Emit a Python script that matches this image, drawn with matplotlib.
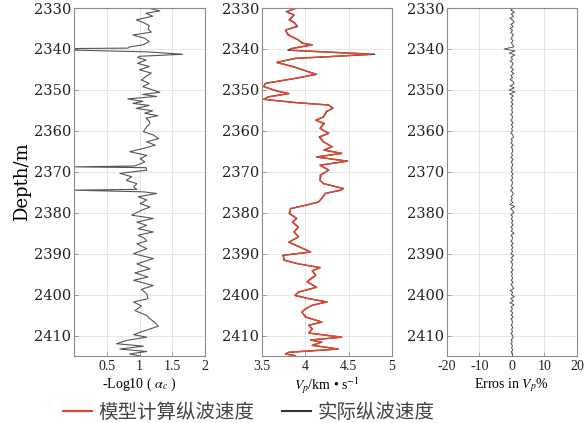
import numpy as np
import matplotlib.pyplot as plt
from matplotlib.lines import Line2D

plt.rcParams['mathtext.fontset'] = 'stix'
plt.rcParams['axes.unicode_minus'] = False

# -Log10(alpha_c) curve (depth in m, value)
alpha_depth = [2330.1, 2330.7, 2331.3, 2332.0, 2332.9, 2333.5, 2334.3, 2335.1, 2335.9, 2336.6,
               2337.4, 2338.2, 2339.0, 2339.5, 2339.8, 2339.9, 2340.3, 2340.7, 2341.3, 2341.8,
               2342.1, 2342.7, 2343.5, 2344.3, 2345.1, 2345.9, 2346.7, 2347.6, 2348.4, 2349.2,
               2350.0, 2350.6, 2351.1, 2351.6, 2352.2, 2352.8, 2353.3, 2353.8, 2354.5, 2355.1,
               2355.7, 2356.3, 2356.9, 2357.7, 2358.2, 2359.0, 2360.2, 2361.0, 2361.9, 2362.7,
               2363.5, 2364.3, 2365.1, 2366.0, 2366.8, 2367.6, 2368.4, 2368.6, 2368.8, 2369.0,
               2369.6, 2370.4, 2371.2, 2372.1, 2372.9, 2373.7, 2374.3, 2374.5, 2374.9, 2375.3,
               2376.1, 2376.9, 2377.8, 2378.6, 2379.4, 2380.6, 2381.4, 2382.3, 2383.1, 2383.9,
               2384.7, 2385.5, 2386.3, 2386.9, 2387.6, 2388.8, 2390.0, 2391.2, 2392.5, 2393.7,
               2394.7, 2395.7, 2396.5, 2397.8, 2398.7, 2399.8, 2401.0, 2401.8, 2402.8, 2403.9,
               2405.1, 2405.9, 2406.9, 2407.7, 2408.4, 2409.2, 2409.8, 2410.4, 2411.2, 2412.0,
               2412.6, 2413.3, 2413.9, 2414.5, 2415.0]
alpha_val = [1.15, 1.31, 1.10, 1.20, 0.95, 1.05, 1.15, 1.13, 1.18, 0.90,
             1.08, 1.15, 1.05, 0.85, 0.82, 0.00, 0.02, 1.10, 1.66, 1.00,
             0.97, 1.10, 0.97, 1.15, 1.00, 1.18, 1.10, 1.03, 1.15, 1.05,
             1.20, 1.31, 1.05, 1.26, 0.82, 1.05, 0.90, 1.15, 0.95, 1.20,
             1.08, 1.28, 1.10, 1.15, 1.16, 1.11, 1.06, 1.21, 1.29, 1.11,
             1.24, 1.06, 0.85, 1.11, 1.01, 1.08, 0.96, 0.92, 0.00, 1.10,
             1.11, 0.70, 0.88, 0.80, 0.96, 0.91, 0.96, 0.00, 1.06, 1.26,
             0.98, 1.11, 1.01, 1.16, 1.03, 0.88, 1.21, 0.96, 1.11, 0.98,
             1.21, 0.98, 1.08, 1.11, 0.96, 1.11, 0.91, 1.21, 0.96, 1.16,
             0.93, 1.13, 0.91, 1.21, 1.03, 1.11, 1.13, 0.91, 1.03, 0.93,
             1.11, 1.16, 1.24, 1.29, 1.16, 1.01, 0.91, 1.11, 0.80, 0.65,
             1.06, 0.70, 1.11, 0.85, 1.01]

# Vp curves (km/s)
vp_depth = [2330.1, 2330.9, 2331.7, 2332.9, 2333.7, 2334.5, 2335.4, 2336.6, 2337.8, 2338.6,
            2339.0, 2339.9, 2340.3, 2340.8, 2341.3, 2341.9, 2342.3, 2343.3, 2344.3, 2345.6,
            2346.2, 2347.2, 2348.4, 2349.2, 2350.3, 2350.9, 2351.7, 2352.3, 2353.1, 2353.7,
            2354.5, 2355.3, 2356.6, 2357.4, 2358.2, 2359.4, 2360.6, 2361.5, 2362.7, 2363.9,
            2364.7, 2365.5, 2366.4, 2367.4, 2368.4, 2369.6, 2370.8, 2372.1, 2372.9, 2374.1,
            2374.5, 2375.3, 2376.5, 2377.4, 2378.2, 2379.0, 2380.2, 2381.4, 2382.3, 2383.5,
            2384.7, 2385.9, 2387.2, 2388.0, 2388.8, 2389.6, 2390.4, 2391.6, 2392.5, 2393.4,
            2394.2, 2395.3, 2396.1, 2396.9, 2398.2, 2399.4, 2400.2, 2401.0, 2401.8, 2402.6,
            2403.5, 2404.3, 2405.5, 2406.7, 2407.5, 2408.4, 2409.4, 2410.4, 2411.1, 2411.6,
            2412.4, 2413.3, 2414.1, 2414.5, 2414.9]
vp_model = [3.88, 3.79, 3.87, 3.81, 3.88, 3.90, 3.77, 3.81, 3.92, 3.96,
            4.08, 3.85, 3.83, 4.27, 4.75, 4.27, 3.88, 3.67, 3.85, 4.04,
            4.12, 3.88, 3.54, 3.52, 3.67, 3.81, 3.58, 3.52, 3.88, 4.27,
            4.31, 4.25, 4.21, 4.12, 4.21, 4.17, 4.27, 4.17, 4.21, 4.31,
            4.21, 4.42, 4.13, 4.48, 4.17, 4.27, 4.17, 4.17, 4.21, 4.44,
            4.40, 4.23, 4.19, 4.15, 4.00, 3.83, 3.81, 3.90, 3.85, 3.92,
            3.87, 3.92, 3.81, 3.90, 3.98, 4.06, 3.75, 3.75, 3.92, 4.17,
            4.08, 4.12, 4.06, 4.02, 4.13, 3.92, 3.88, 4.04, 4.25, 4.08,
            4.00, 3.96, 4.00, 4.19, 4.04, 4.08, 4.04, 4.42, 4.06, 4.19,
            4.08, 4.38, 3.81, 3.77, 3.88]
vp_actual = [3.89, 3.78, 3.87, 3.82, 3.88, 3.91, 3.77, 3.80, 3.92, 3.97,
             4.08, 3.84, 3.80, 4.30, 4.80, 4.25, 3.89, 3.67, 3.86, 4.04,
             4.13, 3.88, 3.54, 3.52, 3.68, 3.81, 3.57, 3.52, 3.89, 4.27,
             4.32, 4.24, 4.21, 4.12, 4.22, 4.17, 4.27, 4.16, 4.21, 4.31,
             4.22, 4.42, 4.13, 4.49, 4.17, 4.27, 4.18, 4.17, 4.21, 4.44,
             4.41, 4.23, 4.19, 4.15, 4.00, 3.83, 3.82, 3.90, 3.85, 3.92,
             3.87, 3.92, 3.81, 3.89, 3.98, 4.06, 3.74, 3.76, 3.92, 4.17,
             4.08, 4.12, 4.07, 4.02, 4.13, 3.92, 3.88, 4.04, 4.25, 4.08,
             4.00, 3.96, 4.01, 4.19, 4.04, 4.08, 4.04, 4.42, 4.06, 4.19,
             4.08, 4.38, 3.81, 3.77, 3.88]

# relative error of Vp (%), sampled every 0.5 m from 2330 m
err_depth = np.arange(2330, 2415.5, 0.5)
err_val = [0.6, -0.4, 0.8, -0.2, 0.5, -0.6, 0.3, 0.7, -0.3, 0.4,
           -0.5, 0.2, -0.4, 0.5, 0.1, -0.3, 0.4, -0.2, 0.3, 0.6,
           -2.4, 1.0, -0.8, 0.9, -0.3, 0.2, -0.5, 0.4, 0.1, -0.4,
           0.5, -0.2, 0.6, -0.3, 0.2, -0.5, 0.4, 0.7, -0.6, 0.8,
           -0.9, 1.0, -0.7, 0.5, -0.4, 0.3, -0.2, 0.4, -0.3, 0.2,
           -0.1, 0.3, -0.4, 0.2, 0.1, -0.3, 0.4, -0.2, 0.3, -0.1,
           0.2, -0.4, 0.3, 0.5, -0.2, 0.1, -0.3, 0.4, -0.2, 0.2,
           0.3, -0.1, 0.2, -0.3, 0.4, -0.2, 0.1, 0.3, -0.3, 0.2,
           -0.2, 0.4, -0.1, 0.3, -0.3, 0.2, 0.1, -0.2, 0.3, -0.4,
           0.2, 0.5, -0.2, 0.1, -0.3, 0.3, -0.6, 0.9, -0.4, 0.2,
           0.6, -0.3, 0.2, -0.2, 0.3, -0.1, 0.4, -0.3, 0.2, -0.2,
           0.7, -0.3, 0.2, 0.1, -0.3, 0.4, -0.2, 0.3, -0.1, 0.2,
           -0.3, 0.6, -0.2, 0.3, -0.4, 0.2, 0.1, -0.2, 0.4, -0.3,
           0.2, -0.1, 0.3, -0.2, 0.4, -0.3, 0.2, 0.6, -0.5, 0.3,
           -0.2, 0.8, -0.4, 0.5, -0.6, 0.7, -0.3, 0.2, -0.4, 0.3,
           -0.2, 0.4, -0.3, 0.2, 0.1, -0.2, 0.3, -0.1, 0.2, -0.3,
           0.2, 0.4, -0.2, 0.1, -0.3, 0.2, -0.1, 0.3, -0.2, 0.1,
           0.2]

depth_ticks = [2330, 2340, 2350, 2360, 2370, 2380, 2390, 2400, 2410]
legend_labels = ['模型计算纵波速度', '实际纵波速度']

red = '#e8452c'
spine_c = '#8c8c8c'
grid_c = '#e6e6e6'

fig = plt.figure(figsize=(5.85, 4.23), dpi=100)
W, H = 585, 423
top, bot = 8, 356
lefts = [74, 262, 446.7]
widths = [131, 130, 130.3]
axes = [fig.add_axes([l / W, 1 - bot / H, w / W, (bot - top) / H]) for l, w in zip(lefts, widths)]

ax1, ax2, ax3 = axes
ax1.plot(alpha_val, alpha_depth, color='#555555', lw=0.8)
ax1.set_xlim(0, 2)
ax1.set_xticks([0.5, 1, 1.5, 2])
ax1.set_xticklabels(['0.5', '1', '1.5', '2'])
ax1.set_xlabel(r'-Log10 ( $\alpha_{c}$ )', fontsize=10, family='Liberation Serif', labelpad=2)
ax1.set_ylabel('Depth/m', fontsize=13, family='DejaVu Serif', labelpad=2)

ax2.plot(vp_actual, vp_depth, color='#444444', lw=1.0)
ax2.plot(vp_model, vp_depth, color=red, lw=1.0)
ax2.set_xlim(3.5, 5)
ax2.set_xticks([3.5, 4, 4.5, 5])
ax2.set_xticklabels(['3.5', '4', '4.5', '5'])
ax2.set_xlabel(r'$V_p$/km • s$^{-1}$', fontsize=10, family='Liberation Serif', labelpad=2)

ax3.plot(err_val, err_depth, color='#444444', lw=0.6)
ax3.set_xlim(-20, 20)
ax3.set_xticks([-20, -10, 0, 10, 20])
ax3.set_xlabel(r'Erros in $V_p$%', fontsize=10, family='Liberation Serif', labelpad=2)

for ax in axes:
    ax.set_ylim(2415, 2330)
    ax.set_yticks(depth_ticks)
    ax.grid(True, color=grid_c, lw=0.7)
    ax.set_axisbelow(True)
    for s in ax.spines.values():
        s.set_color(spine_c)
        s.set_linewidth(0.8)
    ax.tick_params(direction='in', length=3, color=spine_c, width=0.6)
    ax.tick_params(axis='y', pad=2, labelsize=10.5, labelcolor='#222222')
    ax.tick_params(axis='x', pad=3, labelsize=10, labelcolor='#222222')
    for t in ax.get_yticklabels():
        t.set_family('DejaVu Serif')
    for t in ax.get_xticklabels():
        t.set_family('Liberation Serif')

handles = [Line2D([], [], color=red, lw=1.5), Line2D([], [], color='#333333', lw=1.5)]
fig.legend(handles, legend_labels, loc='center', bbox_to_anchor=(0.425, 0.026), ncol=2,
           frameon=False, handlelength=1.5, handletextpad=0.35, columnspacing=1.4,
           prop={'family': ['Noto Sans CJK SC', 'DejaVu Sans'], 'size': 14}, labelcolor='#444444')

fig.savefig('out.png', dpi=100)
